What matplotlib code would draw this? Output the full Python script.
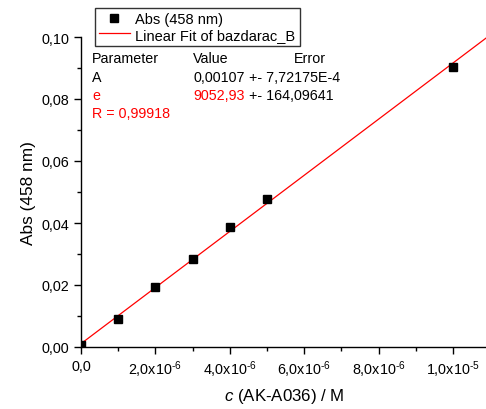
import numpy as np
import matplotlib
matplotlib.use("Agg")
import matplotlib.pyplot as plt
from matplotlib.ticker import FuncFormatter, MultipleLocator
from matplotlib.lines import Line2D

plt.rcParams['font.family'] = ['Liberation Sans', 'DejaVu Sans']
plt.rcParams['mathtext.fontset'] = 'custom'
plt.rcParams['mathtext.rm'] = 'Liberation Sans'
plt.rcParams['mathtext.it'] = 'Liberation Sans:italic'

# data
conc = [0.0, 1e-6, 2e-6, 3e-6, 4e-6, 5e-6, 1e-5]
absorb = [0.0005, 0.0090, 0.0193, 0.0285, 0.0388, 0.0478, 0.0903]
fit_a = 0.00107
fit_b = 9052.93

W, H = 486, 410
fig = plt.figure(figsize=(W / 100, H / 100), dpi=100)
ax = fig.add_axes([81 / W, 1 - 348 / H, (487 - 81) / W, (348 - 38) / H])

xfit = np.array([0.0, 1.2e-5])
ax.plot(xfit, fit_a + fit_b * xfit, color='red', lw=0.9, zorder=2)
ax.plot(conc, absorb, 's', color='black', ms=5.4, zorder=3)

ax.set_xlim(0, 1.0915e-5)
ax.set_ylim(0, 0.1)

for s in ['top', 'right']:
    ax.spines[s].set_visible(False)
for s in ['left', 'bottom']:
    ax.spines[s].set_linewidth(1.0)

ax.xaxis.set_major_locator(MultipleLocator(2e-6))
ax.xaxis.set_minor_locator(MultipleLocator(1e-6))
ax.yaxis.set_major_locator(MultipleLocator(0.02))
ax.yaxis.set_minor_locator(MultipleLocator(0.01))


def xfmt(v, pos):
    if abs(v) < 1e-12:
        return '0,0'
    exp = int(np.floor(np.log10(abs(v)) + 1e-9))
    mant = v / 10 ** exp
    return ('%.1f' % mant).replace('.', ',') + r'x10$^{\text{-%d}}$' % abs(exp)


ax.xaxis.set_major_formatter(FuncFormatter(xfmt))
ax.yaxis.set_major_formatter(FuncFormatter(lambda v, p: ('%.2f' % v).replace('.', ',')))
ax.tick_params(which='major', direction='out', length=5, width=1, labelsize=10.4)
ax.tick_params(which='minor', direction='out', length=3, width=1)

ax.set_xlabel(r'$\it{c}$ (AK-A036) / M', fontsize=12.2, labelpad=5)
ax.set_ylabel('Abs (458 nm)', fontsize=12.4, labelpad=4)

handles = [Line2D([], [], ls='none', marker='s', color='black', ms=5.4),
           Line2D([], [], color='red', lw=0.9)]
fig.legend(handles, ['Abs (458 nm)', 'Linear Fit of bazdarac_B'],
           loc='upper left', bbox_to_anchor=(94.5 / W, 1 - 9 / H),
           frameon=True, fancybox=False, edgecolor='black', fontsize=10.5,
           handlelength=2.1, handletextpad=0.4, borderpad=0.3, labelspacing=0.08,
           borderaxespad=0)
fig.legends[0].get_frame().set_linewidth(1.0)


def ftext(x, y, s, color='black'):
    fig.text(x / W, 1 - y / H, s, color=color, fontsize=10.3, va='center', ha='left')


ftext(92, 59, 'Parameter')
ftext(193, 59, 'Value')
ftext(294, 59, 'Error')
ftext(92, 78, 'A')
ftext(193, 78, '0,00107')
ftext(249, 78, '+- 7,72175E-4')
ftext(92, 96, 'e', 'red')
ftext(193, 96, '9052,93', 'red')
ftext(249, 96, '+- 164,09641')
ftext(92, 114, 'R = 0,99918', 'red')

fig.savefig('out.png', dpi=100)
